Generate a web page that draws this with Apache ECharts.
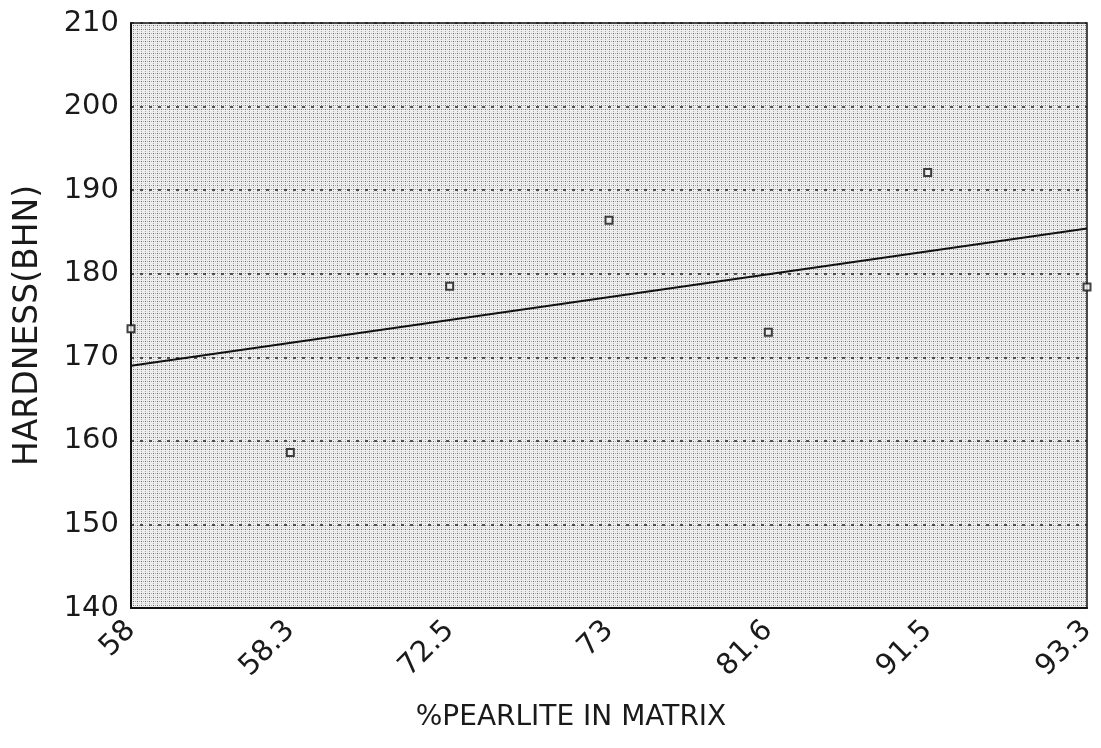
<!DOCTYPE html>
<html>
<head>
<meta charset="utf-8">
<script src="https://cdn.jsdelivr.net/npm/echarts@6/dist/echarts.min.js"></script>
<style>
  html, body { margin: 0; padding: 0; background: #fff; }
  #chart { width: 1101px; height: 748px; }
</style>
</head>
<body>
<div id="chart"></div>
<script>
// Data
const pearlite = ['58', '58.3', '72.5', '73', '81.6', '91.5', '93.3'];
const hardness = [173.4, 158.6, 178.5, 186.4, 173.0, 192.1, 178.4];
// fitted line, end values
const trendStart = 169.0;
const trendEnd = 185.4;
const yTicks = { min: 140, max: 210, step: 10 };

// halftone-like dotted fill for the plot area
function makeDots() {
    const c = document.createElement('canvas');
    c.width = 4;
    c.height = 4;
    const ctx = c.getContext('2d');
    ctx.fillStyle = '#eeeeee';
    ctx.fillRect(0, 0, 4, 4);
    ctx.fillStyle = '#6a6a6a';
    ctx.fillRect(1, 1, 1, 1);
    ctx.fillStyle = '#aaaaaa';
    ctx.fillRect(3, 1, 1, 1);
    ctx.fillRect(1, 3, 1, 1);
    return c;
}

const chart = echarts.init(document.getElementById('chart'));
const font = '"DejaVu Sans", Verdana, sans-serif';
const ink = '#1a1a1a';

chart.setOption({
    animation: false,
    grid: {
        left: 131, top: 23, right: 14, bottom: 140,
        show: true,
        backgroundColor: { image: makeDots(), repeat: 'repeat' },
        borderColor: '#111',
        borderWidth: 1.5
    },
    xAxis: {
        type: 'category',
        data: pearlite,
        boundaryGap: false,
        name: '%PEARLITE IN MATRIX',
        nameLocation: 'middle',
        nameGap: 96,
        nameTextStyle: { fontFamily: font, fontSize: 28, color: ink, padding: [0, 76, 0, 0] },
        axisLine: { lineStyle: { color: '#111', width: 2 } },
        axisTick: { show: false },
        axisLabel: {
            rotate: 45,
            margin: 18,
            fontFamily: font,
            fontSize: 29,
            color: ink
        },
        splitLine: { show: false }
    },
    yAxis: {
        type: 'value',
        min: yTicks.min,
        max: yTicks.max,
        interval: yTicks.step,
        name: 'HARDNESS(BHN)',
        nameLocation: 'middle',
        nameGap: 86,
        nameTextStyle: { fontFamily: font, fontSize: 33, color: ink, padding: [0, 20, 0, 0] },
        axisLine: { show: true, lineStyle: { color: '#111', width: 2 } },
        axisTick: { show: false },
        axisLabel: { margin: 12, fontFamily: font, fontSize: 29, color: ink },
        splitLine: { show: true, lineStyle: { color: '#222', type: [3, 6], width: 1.5 } }
    },
    series: [
        {
            type: 'scatter',
            data: hardness,
            symbol: 'rect',
            symbolSize: 7,
            itemStyle: { color: '#f4f4f4', borderColor: '#111', borderWidth: 2 },
            z: 3
        },
        {
            type: 'line',
            data: [[0, trendStart], [pearlite.length - 1, trendEnd]],
            showSymbol: false,
            lineStyle: { color: '#111', width: 2 },
            z: 2
        }
    ]
});
</script>
</body>
</html>
